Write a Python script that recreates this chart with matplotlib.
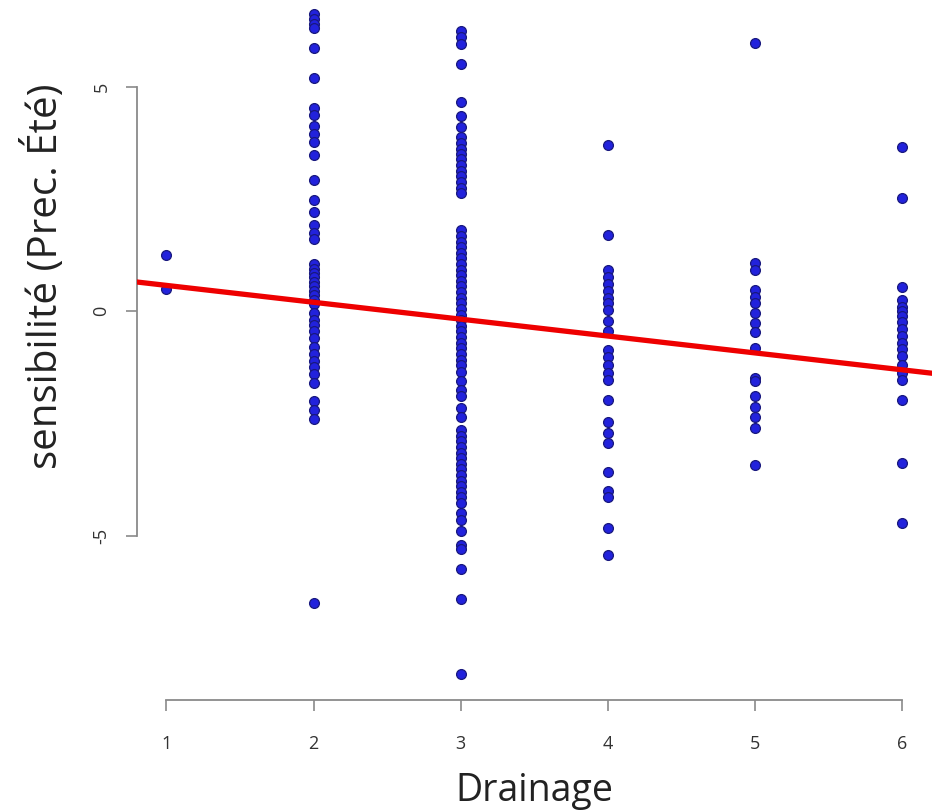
import numpy as np
import matplotlib
matplotlib.use('Agg')
import matplotlib.pyplot as plt

plt.rcParams['font.family'] = ['Open Sans', 'DejaVu Sans']

# sensibilité values read per drainage class
drainage_levels = [1, 2, 3, 4, 5, 6]

sens_d1 = [1.25, 0.5]
sens_d2 = [6.62, 6.5, 6.4, 6.3, 5.85, 5.2, 4.52, 4.37, 4.12, 3.94, 3.76, 3.47,
           2.92, 2.47, 2.2, 1.92, 1.74, 1.6, 1.05, 0.95, 0.85, 0.75, 0.65,
           0.55, 0.45, 0.35, 0.25, 0.15, -0.05, -0.2, -0.3, -0.45, -0.6, -0.8,
           -0.95, -1.1, -1.25, -1.4, -1.6, -2.0, -2.2, -2.4, -6.5]
sens_d3 = [6.25, 6.1, 5.95, 5.5, 4.65, 4.35, 4.1, 3.87, 3.75, 3.62, 3.5, 3.38,
           3.25, 3.12, 3.0, 2.88, 2.75, 2.63, 1.8, 1.68, 1.55, 1.42, 1.3, 1.18,
           1.05, 0.92, 0.8, 0.68, 0.55, 0.42, 0.3, 0.18, 0.05, -0.08, -0.2,
           -0.32, -0.45, -0.58, -0.7, -0.82, -0.95, -1.08, -1.2, -1.35, -1.55,
           -1.75, -1.9, -2.15, -2.35, -2.65, -2.78, -2.9, -3.02, -3.15, -3.28,
           -3.4, -3.52, -3.65, -3.78, -3.9, -4.02, -4.15, -4.28, -4.5, -4.65,
           -4.9, -5.2, -5.3, -5.75, -6.4, -8.08]
sens_d4 = [3.7, 1.7, 0.92, 0.75, 0.6, 0.45, 0.3, 0.18, 0.03, -0.22, -0.45,
           -0.87, -1.02, -1.2, -1.37, -1.54, -1.98, -2.47, -2.72, -2.94, -3.58,
           -4.0, -4.14, -4.83, -5.43]
sens_d5 = [5.97, 1.07, 0.92, 0.47, 0.31, 0.18, -0.04, -0.27, -0.47, -0.82,
           -1.49, -1.55, -1.9, -2.13, -2.36, -2.6, -3.43]
sens_d6 = [3.65, 2.52, 0.53, 0.24, 0.1, 0.0, -0.1, -0.25, -0.4, -0.55, -0.7,
           -0.85, -1.0, -1.2, -1.38, -1.54, -1.98, -3.39, -4.72]

# fitted line (abline of lm)
fit_intercept = 0.95
fit_slope = -0.376

x_ticks = [1, 2, 3, 4, 5, 6]
y_ticks = [-5, 0, 5]

fig = plt.figure(figsize=(9.46, 8.11), dpi=100)
ax = fig.add_axes([137 / 946, 111 / 811, (931.5 - 137) / 946, 700 / 811])

for lvl, vals in zip(drainage_levels, [sens_d1, sens_d2, sens_d3, sens_d4, sens_d5, sens_d6]):
    ax.scatter(np.full(len(vals), lvl), vals, s=50, color='#2222dc',
               edgecolors='#18187e', linewidths=0.9, zorder=2)

ax.axline((0, fit_intercept), slope=fit_slope, color='#ee0000', lw=3.8, zorder=3)

ax.set_xlim(0.8, 6.2)
ax.set_ylim(-8.66, 6.93)

for side in ['top', 'right']:
    ax.spines[side].set_visible(False)
ax.spines['left'].set_bounds(-5, 5)
ax.spines['bottom'].set_bounds(1, 6)
for side in ['left', 'bottom']:
    ax.spines[side].set_color('#8a8a8a')
    ax.spines[side].set_linewidth(1.3)

ax.set_xticks(x_ticks)
ax.set_yticks(y_ticks)
ax.set_yticklabels([str(v) for v in y_ticks], rotation=90, va='center')
ax.tick_params(axis='both', colors='#8a8a8a', labelcolor='#333333',
               length=8, width=1.2, labelsize=13)
ax.tick_params(axis='x', pad=17)
ax.tick_params(axis='y', pad=11)

ax.set_xlabel('Drainage', fontsize=27, color='#222222', labelpad=14)
ax.set_ylabel('sensibilité (Prec. Été)', fontsize=29, color='#222222')
ax.yaxis.set_label_coords(-0.088, 0.606)

plt.savefig('out.png', dpi=100)
plt.close()
